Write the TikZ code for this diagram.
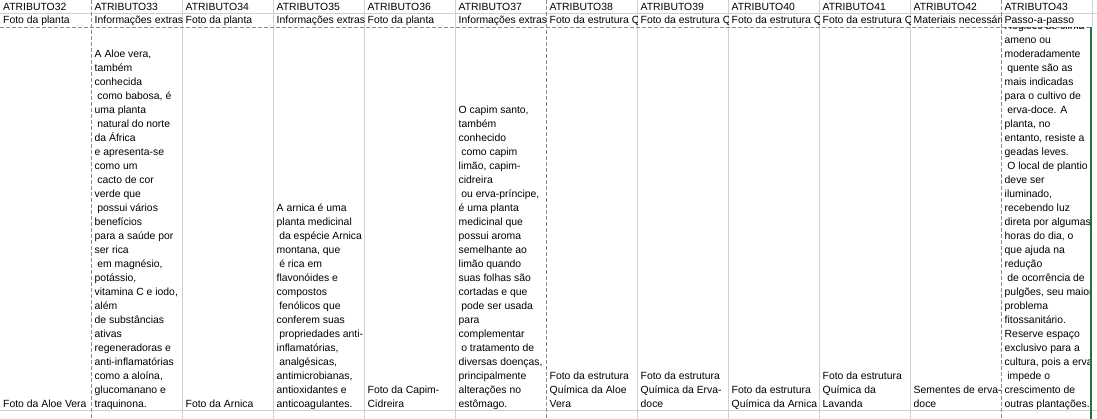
\documentclass[tikz,border=0pt]{standalone}
\usepackage{fontspec}
\setmainfont{Liberation Sans}
\definecolor{gridc}{HTML}{D0D0D0}
\definecolor{dashc}{HTML}{8C8C8C}
\definecolor{xlgreen}{HTML}{217346}
\newcommand\lsp{\hspace*{2.6pt}}
\newcommand\celltext[1]{\begin{tabular}[b]{@{}l@{}}#1\end{tabular}}
\tikzset{
  cell/.style={anchor=base west, inner sep=0pt, font=\fontsize{10.4}{14}\selectfont},
  gridline/.style={draw=gridc, line width=1pt},
  marquee/.style={draw=dashc, line width=1pt, dash pattern=on 4pt off 2pt},
  selborder/.style={draw=xlgreen, line width=2.5pt}
}
\begin{document}
\begin{tikzpicture}[x=1pt,y=-1pt]
\useasboundingbox (0,0) rectangle (1097,419);
\fill[white] (0,0) rectangle (1097,419);
% grid lines
\foreach \xx in {182.5,273.5,364.5,455.5,637.5,728.5,819.5,910.5}
  \draw[gridline] (\xx,0) -- (\xx,419);
\draw[gridline] (0,13.5) -- (1097,13.5);
\draw[gridline] (0,410.5) -- (1097,410.5);
\draw[gridline] (1092.5,0) -- (1092.5,27.5);
% marquee
\foreach \xx in {91.5,546.5,1001.5}
  \draw[marquee] (\xx,0) -- (\xx,419);
\draw[marquee] (0,27.5) -- (1091,27.5);
% header cells
\foreach \nm/\lx/\ta/\tb in {
  h32/0/ATRIBUTO32/Foto da planta,
  h33/91.5/ATRIBUTO33/Informações extras,
  h34/182.5/ATRIBUTO34/Foto da planta,
  h35/273.5/ATRIBUTO35/Informações extras,
  h36/364.5/ATRIBUTO36/Foto da planta,
  h37/455.5/ATRIBUTO37/Informações extras,
  h38/546.5/ATRIBUTO38/Foto da estrutura Q,
  h39/637.5/ATRIBUTO39/Foto da estrutura Q,
  h40/728.5/ATRIBUTO40/Foto da estrutura Q,
  h41/819.5/ATRIBUTO41/Foto da estrutura Q,
  h42/910.5/ATRIBUTO42/Materiais necessári,
  h43/1001.5/ATRIBUTO43/Passo-a-passo}{
  \begin{scope}
    \clip (\lx+0.5,0) rectangle (\lx+90.5,27);
    \node[cell] (\nm a) at (\lx+3,10.5) {\ta};
    \node[cell] (\nm b) at (\lx+3,24) {\tb};
  \end{scope}
}
% body cells
\node[cell] (b32) at (3,407) {Foto da Aloe Vera};
\begin{scope}
\clip (92,28) rectangle (182,410);
\node[cell] (b33) at (94.5,407) {\celltext{A Aloe vera,\\também\\conhecida\\\lsp como babosa, é\\uma planta\\\lsp natural do norte\\da África\\e apresenta-se\\como um\\\lsp cacto de cor\\verde que\\\lsp possui vários\\benefícios\\para a saúde por\\ser rica\\\lsp em magnésio,\\potássio,\\vitamina C e iodo,\\além\\de substâncias\\ativas\\regeneradoras e\\anti-inflamatórias\\como a aloína,\\glucomanano e\\traquinona.}};
\end{scope}
\node[cell] (b34) at (185.5,407) {Foto da Arnica};
\begin{scope}
\clip (274,28) rectangle (364,410);
\node[cell] (b35) at (276.5,407) {\celltext{A arnica é uma\\planta medicinal\\\lsp da espécie Arnica\\montana, que\\\lsp é rica em\\flavonóides e\\compostos\\\lsp fenólicos que\\conferem suas\\\lsp propriedades anti-\\inflamatórias,\\\lsp analgésicas,\\antimicrobianas,\\antioxidantes e\\anticoagulantes.}};
\end{scope}
\node[cell] (b36) at (367.5,407) {\celltext{Foto da Capim-\\Cidreira}};
\begin{scope}
\clip (456,28) rectangle (546,410);
\node[cell] (b37) at (458.5,407) {\celltext{O capim santo,\\também\\conhecido\\\lsp como capim\\limão, capim-\\cidreira\\\lsp ou erva-príncipe,\\é uma planta\\medicinal que\\possui aroma\\semelhante ao\\limão quando\\suas folhas são\\cortadas e que\\\lsp pode ser usada\\para\\complementar\\\lsp o tratamento de\\diversas doenças,\\principalmente\\alterações no\\estômago.}};
\end{scope}
\node[cell] (b38) at (549.5,407) {\celltext{Foto da estrutura\\Química da Aloe\\Vera}};
\node[cell] (b39) at (640.5,407) {\celltext{Foto da estrutura\\Química da Erva-\\doce}};
\node[cell] (b40) at (731.5,407) {\celltext{Foto da estrutura\\Química da Arnica}};
\node[cell] (b41) at (822.5,407) {\celltext{Foto da estrutura\\Química da\\Lavanda}};
\node[cell] (b42) at (913.5,407) {\celltext{Sementes de erva-\\doce}};
\begin{scope}
\clip (1002,28) rectangle (1090,410);
\node[cell] (b43) at (1004.5,407) {\celltext{Regiões de clima\\ameno ou\\moderadamente\\\lsp quente são as\\mais indicadas\\para o cultivo de\\\lsp erva-doce. A\\planta, no\\entanto, resiste a\\geadas leves.\\\lsp O local de plantio\\deve ser\\iluminado,\\recebendo luz\\direta por algumas\\horas do dia, o\\que ajuda na\\redução\\\lsp de ocorrência de\\pulgões, seu maior\\problema\\fitossanitário.\\Reserve espaço\\exclusivo para a\\cultura, pois a erva\\\lsp impede o\\crescimento de\\outras plantações.}};
\end{scope}
% selection border
\coordinate (seltop) at (1091,27.5);
\coordinate (selbot) at (1091,419);
\draw[selborder] (seltop) -- (selbot);
\end{tikzpicture}
\end{document}
